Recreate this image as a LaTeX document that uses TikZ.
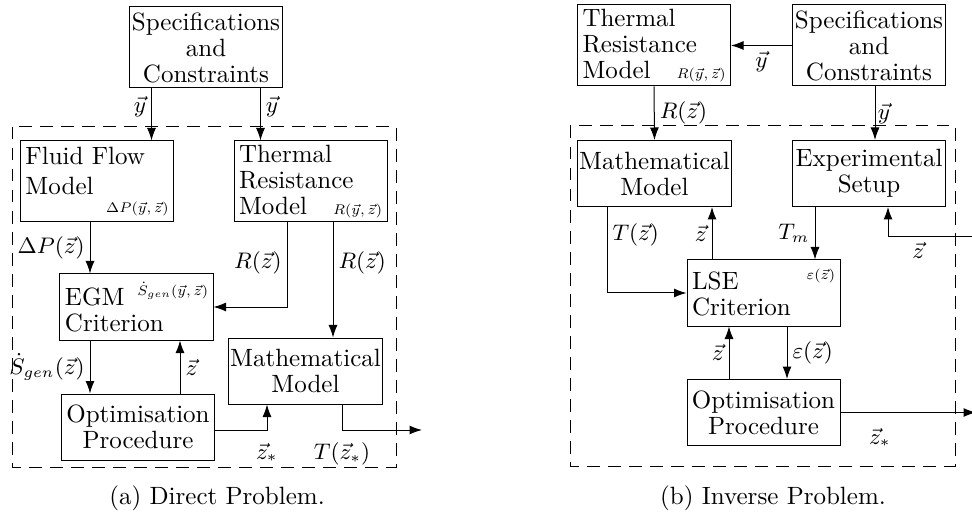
\documentclass[tikz,border=0pt]{standalone}
\usepackage{amsmath}
\usepackage{amssymb}
\usepackage{graphicx}
\usepackage{xcolor}
\usetikzlibrary{arrows.meta, positioning}
\newcommand{\boxnote}[2][0pt]{\hspace*{0pt plus 1filll}\raisebox{#1}{\scalebox{0.8}{\scriptsize $#2$}}}
\tikzset{
    loop/.style={font=\fontsize{10}{10.4}\selectfont, x=0.4pt, y=-0.4pt},
    loop box/.style={draw, thin, align=center, inner xsep=0.5pt, inner ysep=1pt,
        minimum width=61.2pt, minimum height=26.4pt},
    loop card/.style={draw, thin, align=left, inner xsep=2pt, inner ysep=1pt,
        text width=57.2pt, minimum height=26.4pt},
    loop arrow/.style={-{Latex[length=5pt, width=3.6pt]}, thin},
    loop label/.style={font=\fontsize{9}{10}\selectfont, inner sep=2pt},
    loop frame/.style={thin, dash pattern=on 5pt off 3.4pt},
    loop caption/.style={font=\fontsize{10}{12}\selectfont},
}

\begin{document}
\begin{tikzpicture}[loop]

    \useasboundingbox (0,0) rectangle (972,512);
    \clip (0,0) rectangle (972,512);

    % Frames
    \draw[loop frame] (12,127) rectangle (396,467);
    \draw[loop frame] (570,126) rectangle (955,466);

    % Nodes (a)
    \node[loop box, minimum height=32.4pt] (specA) at (206,47.5) {Specifications\\and\\Constraints};
    \node[loop card, minimum height=32.4pt] (fluid) at (97,181.5) {Fluid Flow\\[1.6pt]Model\\[-3.4pt]\mbox{}\boxnote{\Delta P(\vec{y},\vec{z})}};
    \node[loop card, minimum height=32.4pt] (thermA) at (310.5,181.5) {Thermal\\Resistance\\Model\boxnote{R(\vec{y},\vec{z})}};
    \node[loop card] (egm) at (136.5,307) {EGM\boxnote[4pt]{\dot{S}_{gen}(\vec{y},\vec{z})}\\Criterion};
    \node[loop box] (mathA) at (305.5,371) {Mathematical\\Model};
    \node[loop box] (optA) at (138,427) {Optimisation\\Procedure};
    \coordinate (outA) at (422,430);
    \node[loop caption] (capA) at (217,498) {(a) Direct Problem.};

    % Nodes (b)
    \node[loop card, minimum height=32.4pt] (thermB) at (654,45.5) {Thermal\\Resistance\\Model\boxnote{R(\vec{y},\vec{z})}};
    \node[loop box, minimum height=32.4pt] (specB) at (869,45.5) {Specifications\\and\\Constraints};
    \node[loop box] (mathB) at (654.5,173.5) {Mathematical\\Model};
    \node[loop box] (exp) at (869,173.5) {Experimental\\Setup};
    \node[loop card] (lse) at (763.5,293) {LSE\boxnote[4pt]{\varepsilon(\vec{z})}\\Criterion};
    \node[loop box] (optB) at (763.5,412.5) {Optimisation\\Procedure};
    \coordinate (outB) at (976,412.5);
    \coordinate (back) at (972,237);
    \node[loop caption] (capB) at (773,498) {(b) Inverse Problem.};

    % Arrows (a)
    \draw[loop arrow] ([xshift=-21.8pt]specA.south) coordinate (p) -- node[loop label, left, pos=0.35] {$\vec{y}$} (p |- fluid.north);
    \draw[loop arrow] ([xshift=21.8pt]specA.south) coordinate (p) -- node[loop label, right, pos=0.35] {$\vec{y}$} (p |- thermA.north);
    \draw[loop arrow] ([xshift=-2.8pt]fluid.south) coordinate (p) -- node[loop label, left] {$\Delta P(\vec{z})$} (p |- egm.north);
    \draw[loop arrow] ([xshift=-9.4pt]thermA.south) |- node[loop label, left, pos=0.24] {$R(\vec{z})$} (egm.east);
    \draw[loop arrow] ([xshift=9pt]thermA.south) coordinate (p) -- node[loop label, right, pos=0.35] {$R(\vec{z})$} (p |- mathA.north);
    \draw[loop arrow] ([xshift=-18.6pt]egm.south) coordinate (p) -- node[loop label, left] {$\dot{S}_{gen}(\vec{z})$} (p |- optA.north);
    \draw[loop arrow] ([xshift=16.8pt]optA.north) coordinate (p) -- node[loop label, right] {$\vec{z}$} (p |- egm.south);
    \draw[loop arrow] ([yshift=-1.2pt]optA.east) -| node[loop label, below=3pt, pos=0.5] {$\vec{z}_*$} ([xshift=-15.4pt]mathA.south);
    \draw[loop arrow] ([xshift=14.6pt]mathA.south) |- node[loop label, below=3pt, pos=0.5] {$T(\vec{z}_*)$} (outA);

    % Arrows (b)
    \draw[loop arrow] (specB.west) -- node[loop label, below] {$\vec{y}$} (thermB.east);
    \draw[loop arrow] (thermB.south) -- node[loop label, right] {$R(\vec{z})$} (mathB.north);
    \draw[loop arrow] ([xshift=2.4pt]specB.south) coordinate (p) -- node[loop label, right, inner sep=1pt] {$\vec{y}$} (p |- exp.north);
    \draw[loop arrow] ([xshift=-19pt]mathB.south) |- node[loop label, right, pos=0.16] {$T(\vec{z})$} (lse.west);
    \draw[loop arrow] ([xshift=-20.6pt]lse.north) coordinate (p) -- node[loop label, left] {$\vec{z}$} (p |- mathB.south);
    \draw[loop arrow] ([xshift=-21.6pt]exp.south) coordinate (p) -- node[loop label, left] {$T_m$} (p |- lse.north);
    \draw[loop arrow] ([xshift=-13.8pt]optB.north) coordinate (p) -- node[loop label, left] {$\vec{z}$} (p |- lse.south);
    \draw[loop arrow] ([xshift=9.4pt]lse.south) coordinate (p) -- node[loop label, right] {$\varepsilon(\vec{z})$} (p |- optB.north);
    \draw[loop arrow] (optB.east) -- node[loop label, below=4pt, pos=0.29] {$\vec{z}_*$} (outB);
    \draw[loop arrow] (back) -| node[loop label, below, pos=0.32] {$\vec{z}$} ([xshift=7.6pt]exp.south);

\end{tikzpicture}
\end{document}
